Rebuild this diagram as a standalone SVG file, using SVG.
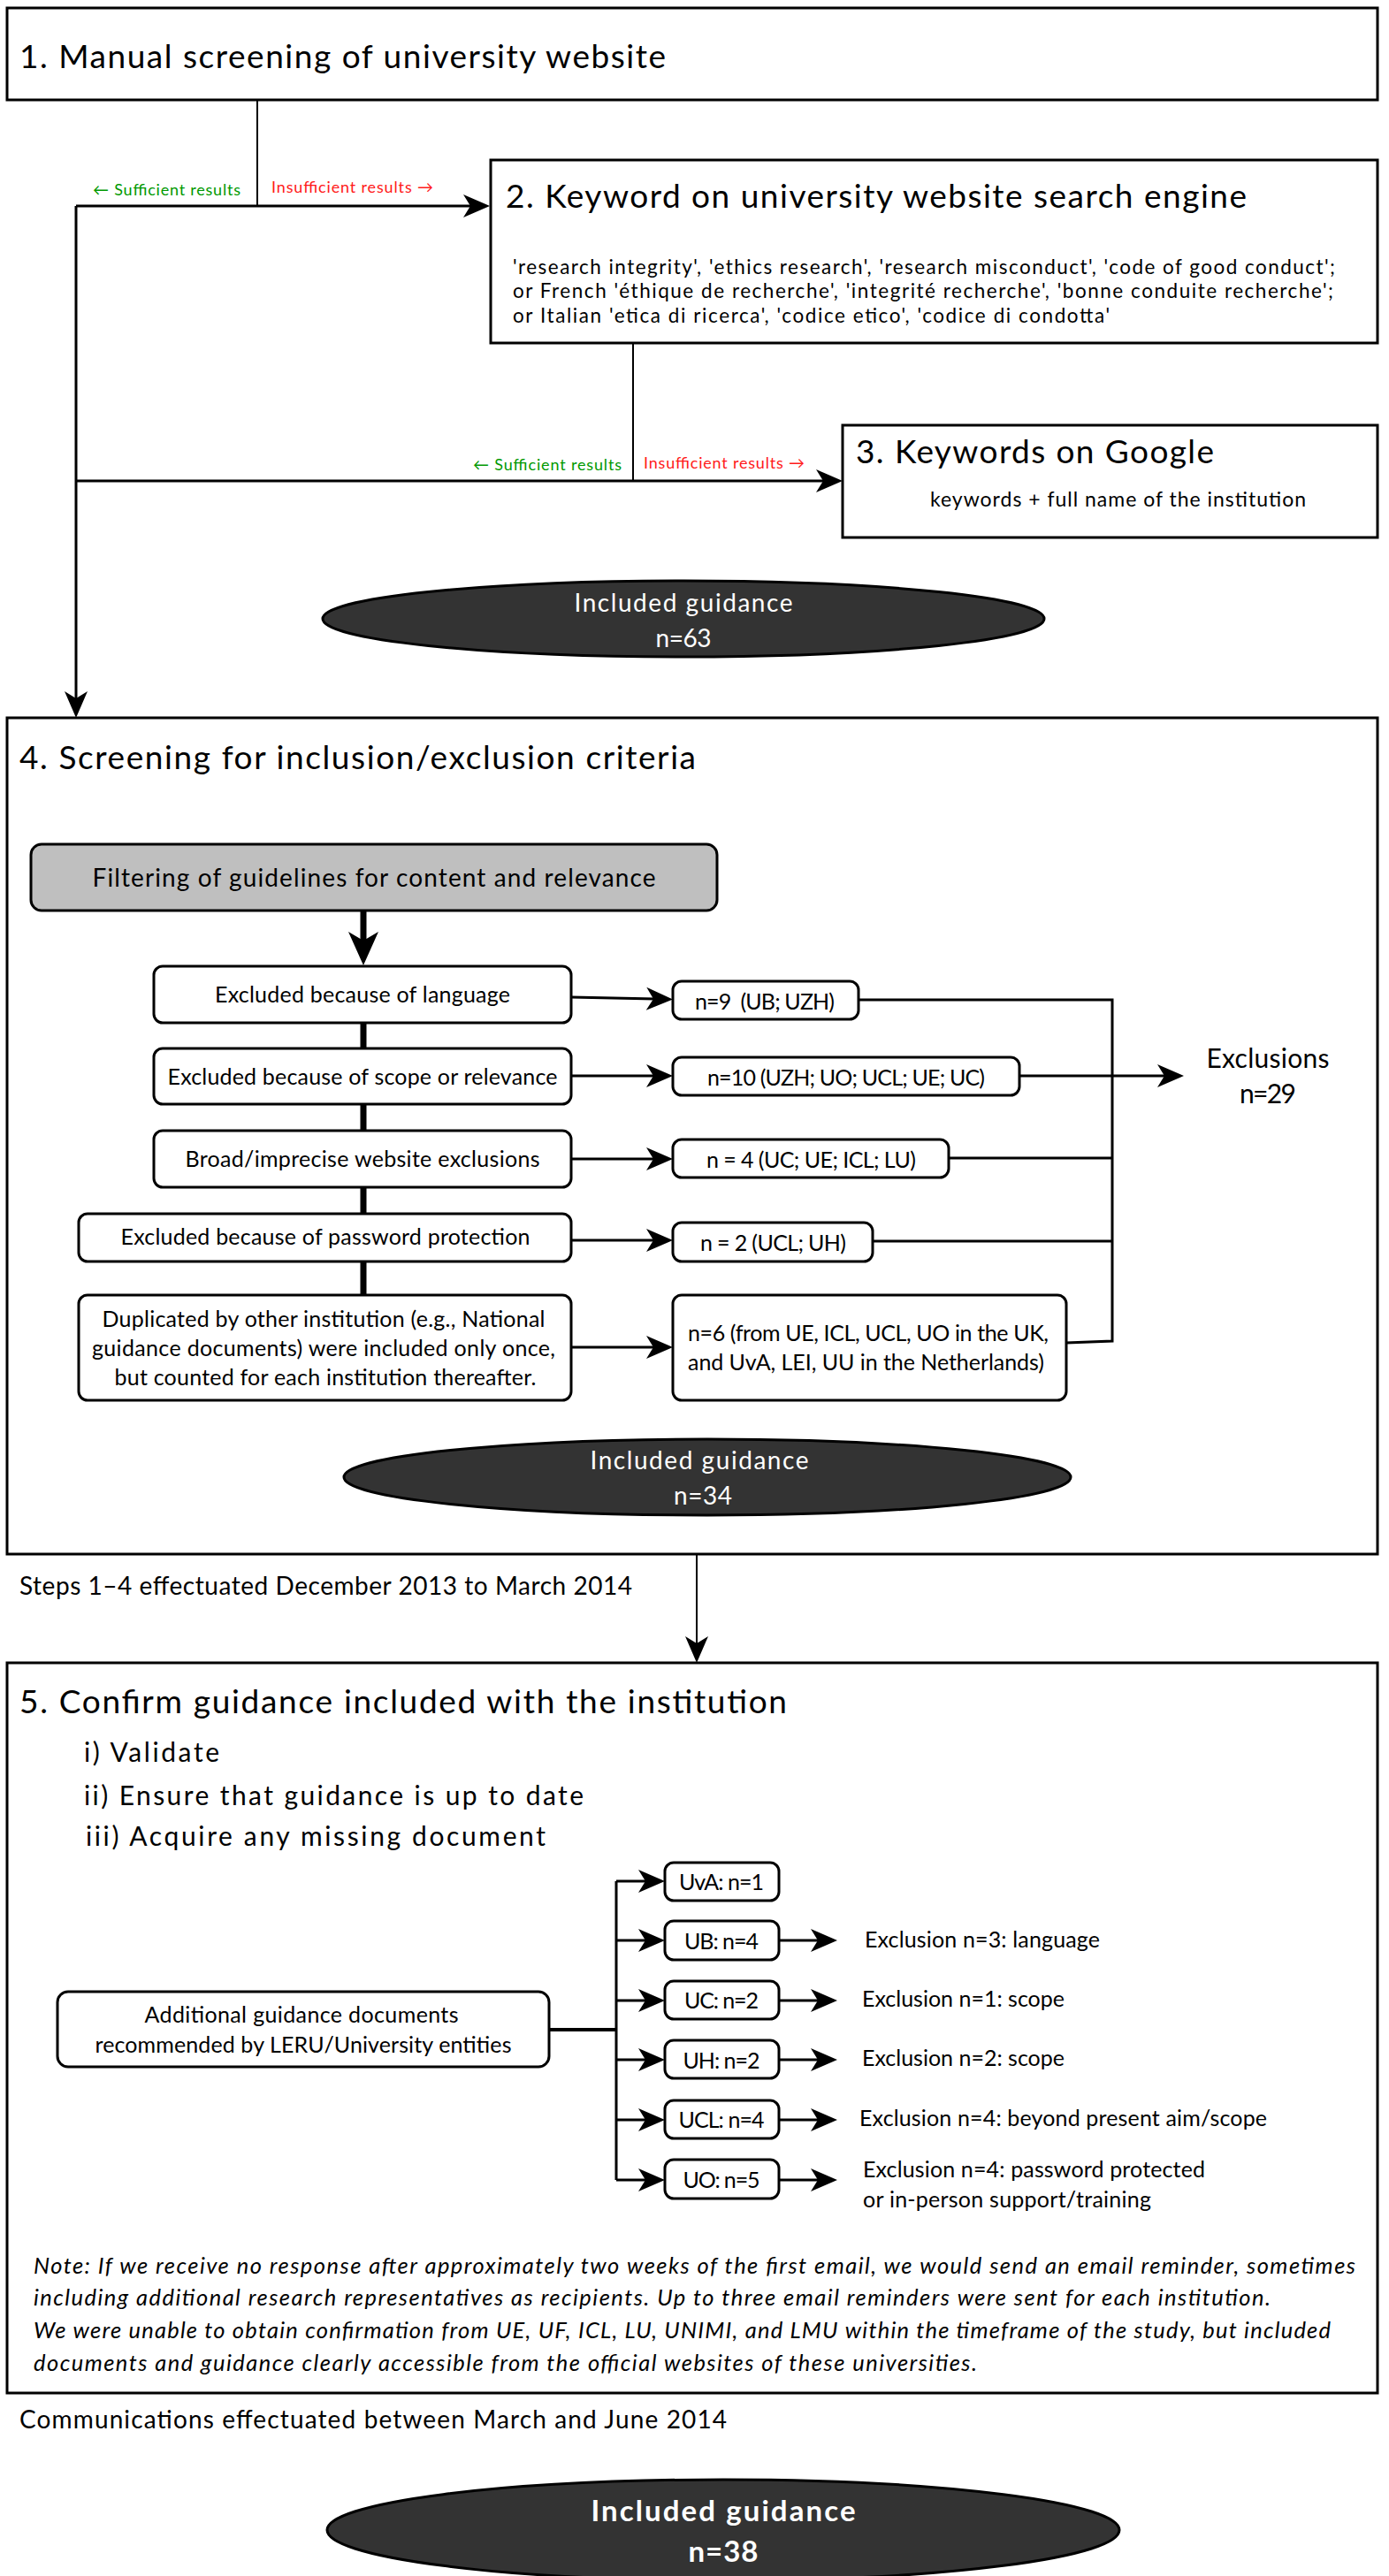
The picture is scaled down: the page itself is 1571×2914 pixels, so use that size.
<svg xmlns="http://www.w3.org/2000/svg" width="1571" height="2914" viewBox="0 0 1571 2914">
<style>
.t{font-family:Lato,"Liberation Sans","DejaVu Sans",sans-serif;fill:#000}
.c{text-anchor:middle}
.w{fill:#fff}
.i{font-style:italic}
.b{font-weight:bold}
.box{fill:#fff;stroke:#000;stroke-width:3}
.gbox{fill:#bfbfbf;stroke:#000;stroke-width:3}
.ell{fill:#333;stroke:#000;stroke-width:3}
.ln{fill:none;stroke:#000;stroke-width:3}
.thin{stroke-width:2}
.thick{stroke-width:7}
.green{fill:#009900}
.red{fill:#ff1a1a}
</style>
<defs>
<marker id="arr" markerUnits="userSpaceOnUse" orient="auto" viewBox="-11 -14 32 28" markerWidth="32" markerHeight="28" refX="0" refY="0">
<path d="M20,0 L-10,-13 L-2,0 L-10,13 Z" fill="#000"/>
</marker>
<marker id="arrBig" markerUnits="userSpaceOnUse" orient="auto" viewBox="-15 -19 40 38" markerWidth="40" markerHeight="38" refX="0" refY="0">
<path d="M24,0 L-14,-17 L-4,0 L-14,17 Z" fill="#000"/>
</marker>
</defs>
<rect width="1571" height="2914" fill="#fff"/>

<g id="step1">
<rect class="box" x="8" y="9" width="1550" height="104"/>
<text class="t" x="22" y="77" font-size="37" textLength="731">1. Manual screening of university website</text>
</g>

<g id="step2">
<rect class="box" x="555" y="181" width="1003" height="207"/>
<text class="t" x="572" y="235" font-size="37" textLength="838">2. Keyword on university website search engine</text>
<text class="t" x="580" y="310" font-size="22.5" textLength="930">'research integrity', 'ethics research', 'research misconduct', 'code of good conduct';</text>
<text class="t" x="580" y="337" font-size="22.5" textLength="928">or French 'éthique de recherche', 'integrité recherche', 'bonne conduite recherche';</text>
<text class="t" x="580" y="365" font-size="22.5" textLength="675">or Italian 'etica di ricerca', 'codice etico', 'codice di condotta'</text>
</g>

<g id="step3">
<rect class="box" x="953" y="481" width="605" height="127"/>
<text class="t" x="968" y="524" font-size="37" textLength="405">3. Keywords on Google</text>
<text class="t" x="1052" y="573" font-size="23" textLength="425">keywords + full name of the institution</text>
</g>

<g id="included63">
<ellipse class="ell" cx="773" cy="700" rx="408" ry="43"/>
<text class="t w c" x="773" y="692" font-size="28" textLength="247">Included guidance</text>
<text class="t w c" x="773" y="732" font-size="28" textLength="63">n=63</text>
</g>

<g id="step4">
<rect class="box" x="8" y="812" width="1550" height="946"/>
<text class="t" x="22" y="870" font-size="37" textLength="765">4. Screening for inclusion/exclusion criteria</text>
</g>

<g id="step5">
<rect class="box" x="8" y="1881" width="1550" height="826"/>
<text class="t" x="22" y="1938" font-size="37" textLength="868">5. Confirm guidance included with the institution</text>
<text class="t" x="95" y="1993" font-size="30" textLength="153">i) Validate</text>
<text class="t" x="95" y="2042" font-size="30" textLength="565">ii) Ensure that guidance is up to date</text>
<text class="t" x="97" y="2088" font-size="30" textLength="520">iii) Acquire any missing document</text>
<text class="t i" x="38" y="2572" font-size="25.5" textLength="1495">Note: If we receive no response after approximately two weeks of the first email, we would send an email reminder, sometimes</text>
<text class="t i" x="38" y="2608" font-size="25.5" textLength="1399">including additional research representatives as recipients. Up to three email reminders were sent for each institution.</text>
<text class="t i" x="38" y="2645" font-size="25.5" textLength="1467">We were unable to obtain confirmation from UE, UF, ICL, LU, UNIMI, and LMU within the timeframe of the study, but included</text>
<text class="t i" x="38" y="2682" font-size="25.5" textLength="1067">documents and guidance clearly accessible from the official websites of these universities.</text>
</g>

<g id="connectors">
<path class="ln thin" d="M291,113 V233"/>
<path class="ln" d="M86,233 H534" marker-end="url(#arr)"/>
<path class="ln" d="M86,233 V792" marker-end="url(#arr)"/>
<path class="ln thin" d="M716,388 V544"/>
<path class="ln" d="M86,544 H933" marker-end="url(#arr)"/>
<path class="ln thick" d="M411,1030 V1068" marker-end="url(#arrBig)"/>
<path class="ln thick" d="M411,1157 V1186 M411,1249 V1279 M411,1343 V1373 M411,1427 V1465"/>
<path class="ln" d="M646,1128 L741,1130" marker-end="url(#arr)"/>
<path class="ln" d="M646,1217 H741" marker-end="url(#arr)"/>
<path class="ln" d="M646,1311 H741" marker-end="url(#arr)"/>
<path class="ln" d="M646,1403 H741" marker-end="url(#arr)"/>
<path class="ln" d="M646,1524 H741" marker-end="url(#arr)"/>
<path class="ln" d="M971,1131 H1258 V1517 L1206,1519"/>
<path class="ln" d="M1073,1310 H1258 M987,1404 H1258"/>
<path class="ln" d="M1153,1217 H1319" marker-end="url(#arr)"/>
<path class="ln thin" d="M788,1758 V1861" marker-end="url(#arr)"/>
<path class="ln" style="stroke-width:4" d="M621,2296 H697"/>
<path class="ln" d="M697,2128 V2466"/>
<path class="ln" d="M697,2128 H732" marker-end="url(#arr)"/>
<path class="ln" d="M697,2195 H732" marker-end="url(#arr)"/>
<path class="ln" d="M697,2263 H732" marker-end="url(#arr)"/>
<path class="ln" d="M697,2330 H732" marker-end="url(#arr)"/>
<path class="ln" d="M697,2398 H732" marker-end="url(#arr)"/>
<path class="ln" d="M697,2466 H732" marker-end="url(#arr)"/>
<path class="ln" d="M881,2195 H927" marker-end="url(#arr)"/>
<path class="ln" d="M881,2263 H927" marker-end="url(#arr)"/>
<path class="ln" d="M881,2330 H927" marker-end="url(#arr)"/>
<path class="ln" d="M881,2398 H927" marker-end="url(#arr)"/>
<path class="ln" d="M881,2466 H927" marker-end="url(#arr)"/>
</g>

<g id="labels">
<text class="t green" x="105" y="221" font-size="18" textLength="167">← Sufficient results</text>
<text class="t red" x="307" y="218" font-size="18" textLength="183">Insufficient results →</text>
<text class="t green" x="535" y="532" font-size="18" textLength="168">← Sufficient results</text>
<text class="t red" x="728" y="530" font-size="18" textLength="182">Insufficient results →</text>
</g>

<g id="filter">
<rect class="gbox" x="35" y="955" width="776" height="75" rx="12"/>
<text class="t c" x="423" y="1003" font-size="28" textLength="637">Filtering of guidelines for content and relevance</text>
</g>

<g id="ex-language">
<rect class="box" x="174" y="1093" width="472" height="64" rx="10"/>
<text class="t c" x="410" y="1134" font-size="25" textLength="334">Excluded because of language</text>
</g>
<g id="ex-scope">
<rect class="box" x="174" y="1186" width="472" height="63" rx="10"/>
<text class="t c" x="410" y="1227" font-size="25" textLength="441">Excluded because of scope or relevance</text>
</g>
<g id="ex-broad">
<rect class="box" x="174" y="1279" width="472" height="64" rx="10"/>
<text class="t c" x="410" y="1320" font-size="25" textLength="401">Broad/imprecise website exclusions</text>
</g>
<g id="ex-password">
<rect class="box" x="89" y="1373" width="557" height="54" rx="10"/>
<text class="t c" x="368" y="1408" font-size="25" textLength="463">Excluded because of password protection</text>
</g>
<g id="ex-duplicated">
<rect class="box" x="89" y="1465" width="557" height="119" rx="10"/>
<text class="t c" x="366" y="1501" font-size="25" textLength="501">Duplicated by other institution (e.g., National</text>
<text class="t c" x="366" y="1534" font-size="25" textLength="524">guidance documents) were included only once,</text>
<text class="t c" x="368" y="1567" font-size="25" textLength="477">but counted for each institution thereafter.</text>
</g>

<g id="n9">
<rect class="box" x="761" y="1110" width="210" height="43" rx="10"/>
<text class="t" x="786" y="1142" font-size="25" textLength="158" xml:space="preserve">n=9  (UB; UZH)</text>
</g>
<g id="n10">
<rect class="box" x="761" y="1196" width="392" height="43" rx="10"/>
<text class="t" x="800" y="1228" font-size="25" textLength="314">n=10 (UZH; UO; UCL; UE; UC)</text>
</g>
<g id="n4">
<rect class="box" x="761" y="1289" width="312" height="43" rx="10"/>
<text class="t" x="799" y="1321" font-size="25" textLength="237">n = 4 (UC; UE; ICL; LU)</text>
</g>
<g id="n2">
<rect class="box" x="761" y="1383" width="226" height="44" rx="10"/>
<text class="t" x="792" y="1415" font-size="25" textLength="165">n = 2 (UCL; UH)</text>
</g>
<g id="n6">
<rect class="box" x="761" y="1465" width="445" height="119" rx="10"/>
<text class="t" x="778" y="1517" font-size="25" textLength="408">n=6 (from UE, ICL, UCL, UO in the UK,</text>
<text class="t" x="778" y="1550" font-size="25" textLength="403">and UvA, LEI, UU in the Netherlands)</text>
</g>

<g id="exclusions">
<text class="t c" x="1434" y="1208" font-size="30" textLength="139">Exclusions</text>
<text class="t c" x="1434" y="1248" font-size="30" textLength="64">n=29</text>
</g>

<g id="included34">
<ellipse class="ell" cx="800" cy="1671" rx="411" ry="43"/>
<text class="t w c" x="791" y="1662" font-size="28" textLength="247">Included guidance</text>
<text class="t w c" x="795" y="1702" font-size="28" textLength="66">n=34</text>
</g>

<g id="steps-note">
<text class="t" x="22" y="1804" font-size="28" textLength="693">Steps 1–4 effectuated December 2013 to March 2014</text>
</g>

<g id="additional">
<rect class="box" x="65" y="2253" width="556" height="85" rx="12"/>
<text class="t c" x="341" y="2288" font-size="25" textLength="355">Additional guidance documents</text>
<text class="t c" x="343" y="2322" font-size="25" textLength="471">recommended by LERU/University entities</text>
</g>

<g id="uva">
<rect class="box" x="752" y="2107" width="129" height="43" rx="10"/>
<text class="t c" x="816" y="2138" font-size="25" textLength="96">UvA: n=1</text>
</g>
<g id="ub">
<rect class="box" x="752" y="2173" width="129" height="44" rx="10"/>
<text class="t c" x="816" y="2205" font-size="25" textLength="84">UB: n=4</text>
</g>
<g id="uc">
<rect class="box" x="752" y="2241" width="129" height="43" rx="10"/>
<text class="t c" x="816" y="2272" font-size="25" textLength="84">UC: n=2</text>
</g>
<g id="uh">
<rect class="box" x="752" y="2308" width="129" height="43" rx="10"/>
<text class="t c" x="816" y="2340" font-size="25" textLength="87">UH: n=2</text>
</g>
<g id="ucl">
<rect class="box" x="752" y="2376" width="129" height="43" rx="10"/>
<text class="t c" x="816" y="2407" font-size="25" textLength="97">UCL: n=4</text>
</g>
<g id="uo">
<rect class="box" x="752" y="2443" width="129" height="44" rx="10"/>
<text class="t c" x="816" y="2475" font-size="25" textLength="87">UO: n=5</text>
</g>

<g id="exclusion-texts">
<text class="t" x="978" y="2203" font-size="25" textLength="266">Exclusion n=3: language</text>
<text class="t" x="975" y="2270" font-size="25" textLength="229">Exclusion n=1: scope</text>
<text class="t" x="975" y="2337" font-size="25" textLength="229">Exclusion n=2: scope</text>
<text class="t" x="972" y="2405" font-size="25" textLength="461">Exclusion n=4: beyond present aim/scope</text>
<text class="t" x="976" y="2463" font-size="25" textLength="387">Exclusion n=4: password protected</text>
<text class="t" x="976" y="2497" font-size="25" textLength="326">or in-person support/training</text>
</g>

<g id="communications-note">
<text class="t" x="22" y="2747" font-size="28" textLength="800">Communications effectuated between March and June 2014</text>
</g>

<g id="included38">
<ellipse class="ell" cx="818" cy="2862" rx="448" ry="57"/>
<text class="t w c b" x="818" y="2852" font-size="33" textLength="299">Included guidance</text>
<text class="t w c b" x="818" y="2898" font-size="33" textLength="79">n=38</text>
</g>
</svg>
